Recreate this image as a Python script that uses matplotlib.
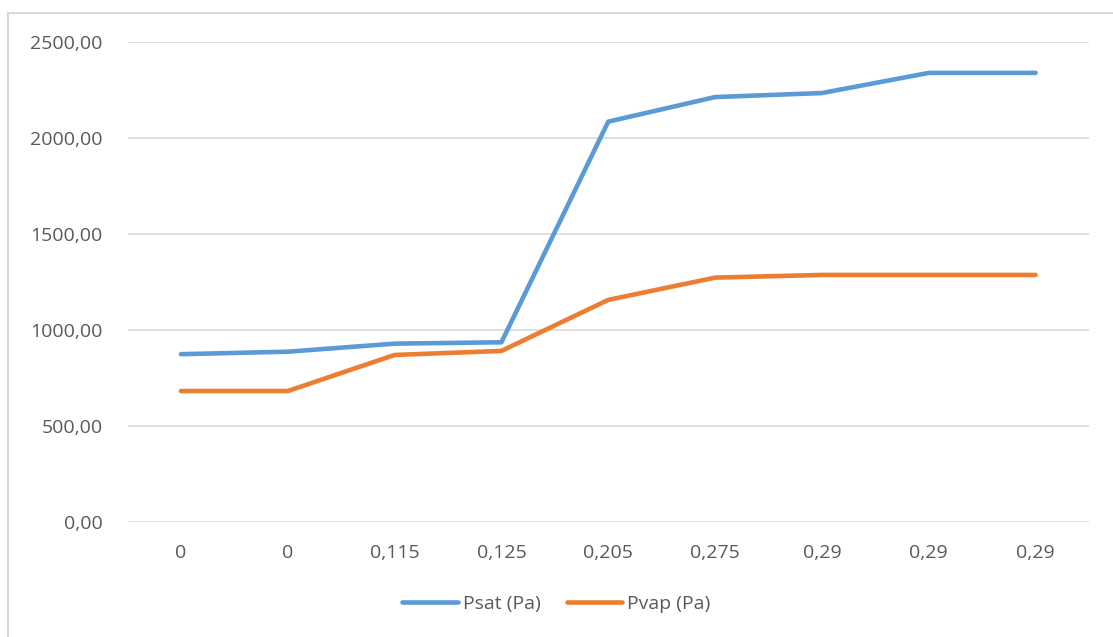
import matplotlib
matplotlib.use("Agg")
import matplotlib.pyplot as plt
from matplotlib.patches import Rectangle
from matplotlib.ticker import FuncFormatter

# data
categories = ["0", "0", "0,115", "0,125", "0,205", "0,275", "0,29", "0,29", "0,29"]
psat = [873, 886, 928, 935, 2085, 2213, 2234, 2339, 2339]
pvap = [681, 681, 869, 890, 1156, 1272, 1286, 1286, 1286]

blue = "#5B9BD5"
orange = "#ED7D31"
grey_txt = "#595959"

plt.rcParams['font.family'] = ['Open Sans', 'DejaVu Sans']

W, H = 1113, 637
fig = plt.figure(figsize=(W / 100, H / 100), dpi=100)
ax = fig.add_axes([127.5 / W, 1 - 521.7 / H, (1089 - 127.5) / W, (521.7 - 42) / H])

# outer chart border, runs off the right and bottom edge
fig.patches.append(Rectangle((8 / W, -0.05), 1.2, 1 - 13 / H + 0.05, transform=fig.transFigure,
                             fill=False, edgecolor="#d9d9d9", linewidth=1.5, zorder=0))

x = list(range(len(categories)))
ax.plot(x, psat, color=blue, lw=3.3, solid_capstyle='round', solid_joinstyle='round', label="Psat (Pa)")
ax.plot(x, pvap, color=orange, lw=3.3, solid_capstyle='round', solid_joinstyle='round', label="Pvap (Pa)")

ax.set_xlim(-0.5, len(categories) - 0.5)
ax.set_ylim(0, 2500)
ax.set_yticks(range(0, 2501, 500))
ax.yaxis.set_major_formatter(FuncFormatter(lambda v, p: f"{v:.2f}".replace('.', ',')))
ax.set_xticks(x)
ax.set_xticklabels(categories)

ax.grid(axis='y', color="#d9d9d9", linewidth=1.2)
ax.set_axisbelow(True)
for s in ax.spines.values():
    s.set_visible(False)
ax.tick_params(axis='both', length=0, labelsize=14, labelcolor=grey_txt)
ax.tick_params(axis='y', pad=18)
ax.tick_params(axis='x', pad=16)

fig.legend(loc='center', bbox_to_anchor=(0.5, 1 - 604 / H), ncol=2, frameon=False,
           fontsize=14, labelcolor=grey_txt, handlelength=2.85, handletextpad=0.26,
           columnspacing=1.35)

fig.savefig("out.png", dpi=100, facecolor="white")
